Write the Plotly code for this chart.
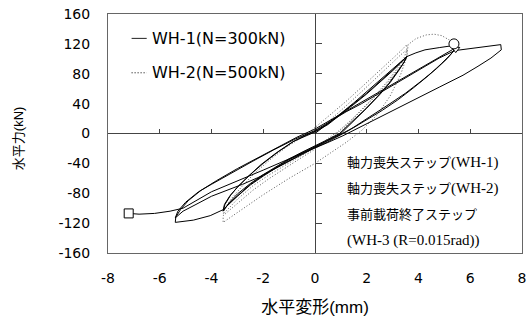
import plotly.graph_objects as go

# ---------------- data ----------------
wh1_x = [0, 0.5, 1, 1.5, 2, 2.5, 3, 3.3, 3.55,
         3.45, 3.25, 2.9, 2.5, 2.0, 1.5, 1.15, 1.0,
         0.5, 0, -0.5, -1, -1.5, -2, -2.5, -3, -3.3, -3.55,
         -3.5, -3.3, -3, -2.6, -2.1, -1.5, -0.9, -0.4, 0,
         0.5, 1, 1.5, 2, 2.5, 3, 3.3, 3.55,
         3.42, 3.2, 2.85, 2.4, 1.9, 1.4, 1.1, 0.95,
         0.5, 0, -0.5, -1, -1.5, -2, -2.5, -3, -3.3, -3.55,
         -3.48, -3.25, -2.95, -2.5, -2, -1.4, -0.8, -0.3, 0,
         0.5, 1, 1.5, 2, 2.5, 3, 3.3, 3.55, 3.9, 4.25, 4.8, 5.3, 5.4,
         5.4, 5.25, 4.9, 4.4, 3.8, 3.2, 2.6, 2.0, 1.5, 1.05,
         0.5, 0, -0.5, -1, -1.5, -2, -2.5, -3, -3.55, -4.05, -4.7, -5.4,
         -5.38, -5.2, -4.9, -4.4, -3.8, -3.0, -2.25, -1.5, -0.7, 0,
         0.5, 1, 1.6, 2.2, 2.8, 3.4, 3.9, 4.4, 4.9, 5.3, 5.4,
         5.35, 5.1, 4.7, 4.1, 3.5, 2.9, 2.3, 1.7, 1.3, 1.1,
         0.5, 0, -0.5, -1, -1.6, -2.2, -2.8, -3.4, -4, -4.6, -5.1, -5.4,
         -5.3, -5.0, -4.5, -4.0, -3.2, -2.4, -1.6, -0.8, 0,
         0.6, 1.2, 1.8, 2.4, 3, 3.6, 4.2, 4.8, 5.4, 6.0, 6.6, 7.18,
         7.2, 6.8, 6.3, 5.72, 4.8, 3.9, 3, 2.1, 1.5, 1.08,
         0.5, 0, -1, -2, -3, -4, -4.6, -5.1, -5.6, -6.2, -6.8, -7.2]
wh1_y = [0, 13, 27, 41, 56, 71, 87, 96, 103,
         96, 85, 68, 52, 34, 17, 6, 0,
         -9, -17, -26, -35, -45, -56, -68, -83, -93, -103,
         -95, -84, -72, -58, -42, -26, -12, -3, 3,
         13, 26, 40, 54, 69, 85, 95, 103,
         94, 83, 67, 49, 31, 15, 5, 0,
         -8, -16, -25, -34, -44, -55, -67, -81, -92, -104,
         -95, -82, -70, -55, -40, -24, -10, -2, 2,
         12, 25, 39, 53, 68, 84, 94, 103, 108, 112, 115, 118, 118,
         113, 106, 94, 78, 61, 45, 31, 18, 8, 0,
         -10, -18, -27, -36, -46, -57, -69, -84, -102, -110, -116, -119,
         -112, -102, -90, -76, -63, -47, -33, -19, -5, 6,
         16, 27, 38, 50, 62, 75, 84, 94, 104, 112, 116,
         110, 100, 87, 70, 54, 40, 26, 13, 4, 0,
         -11, -19, -28, -37, -48, -59, -68, -76, -84, -95, -104, -113,
         -104, -92, -78, -68, -52, -37, -22, -8, 4,
         17, 29, 40, 52, 64, 77, 89, 101, 111, 113.5, 116, 119,
         112, 101, 90, 78, 62, 46, 30, 15, 4, -3,
         -12, -19, -34, -49, -63, -78, -90, -100, -104, -107, -108, -107]

wh2_x = [0, 0.6, 1.2, 1.8, 2.4, 3, 3.3, 3.55,
         3.45, 3.2, 2.8, 2.3, 1.8, 1.3, 0.9, 0.5, 0, -0.6, -1.2, -1.8, -2.4, -3, -3.55,
         -3.45, -3.2, -2.8, -2.3, -1.7, -1.1, -0.5, 0, 0.6, 1.2, 1.8, 2.4, 3, 3.3, 3.55,
         3.55, 3.55, 3.3, 2.9, 2.4, 1.9, 1.4, 1.0, 0.5, 0, -0.6, -1.2, -1.8, -2.4, -3, -3.55, -3.55,
         -2.8, -2, -1, 0, 0.6, 1.2, 1.8, 2.4, 2.9, 3.3, 3.55, 3.6, 3.9, 4.3, 4.6, 4.9, 5.2, 5.37]
wh2_y = [0, 18, 37, 56, 75, 95, 105, 112,
         102, 88, 70, 50, 32, 15, 3, -7, -19, -31, -43, -56, -70, -88, -108,
         -98, -86, -70, -52, -34, -18, -5, 8, 25, 43, 62, 81, 100, 110, 119,
         111, 103, 90, 72, 52, 34, 17, 4, -9, -21, -34, -47, -61, -76, -94, -110, -119,
         -101, -82, -60, -40, -26, -12, 4, 25, 50, 78, 103, 119, 127, 132, 133, 131, 125, 120]

# step markers
collapse_wh1 = ([-7.2], [-107])     # 軸力喪失ステップ(WH-1)
collapse_wh2 = ([5.37], [120])      # 軸力喪失ステップ(WH-2)
preload_wh3 = ([5.44], [113])       # 事前載荷終了ステップ(WH-3)

x_ticks = [-8, -6, -4, -2, 0, 2, 4, 6, 8]
y_ticks = [-160, -120, -80, -40, 0, 40, 80, 120, 160]
x_minor = [-6, -4, -2, 2, 4, 6]
y_minor = [-160, -120, -80, -40, 40, 80, 120, 160]

x_title = "水平変形(mm)"
y_title = "水平力(kN)"
legend_labels = ["WH-1(N=300kN)", "WH-2(N=500kN)"]
note_jp = ["軸力喪失ステップ", "軸力喪失ステップ", "事前載荷終了ステップ", ""]
note_en = ["(WH-1)", "(WH-2)", "", "(WH-3 (R=0.015rad))"]

DOT = "1px,2px"

# ---------------- figure ----------------
fig = go.Figure()
fig.add_trace(go.Scatter(x=wh2_x, y=wh2_y, mode="lines",
                         line=dict(color="#555555", width=1, dash=DOT),
                         name=legend_labels[1], showlegend=False))
fig.add_trace(go.Scatter(x=wh1_x, y=wh1_y, mode="lines",
                         line=dict(color="#000000", width=1),
                         name=legend_labels[0], showlegend=False))
fig.add_trace(go.Scatter(x=preload_wh3[0], y=preload_wh3[1], mode="markers",
                         marker=dict(symbol="triangle-down", size=7, color="white",
                                     line=dict(color="black", width=1)),
                         showlegend=False))
fig.add_trace(go.Scatter(x=collapse_wh1[0], y=collapse_wh1[1], mode="markers",
                         marker=dict(symbol="square", size=9, color="white",
                                     line=dict(color="black", width=1)),
                         showlegend=False))
fig.add_trace(go.Scatter(x=collapse_wh2[0], y=collapse_wh2[1], mode="markers",
                         marker=dict(symbol="circle", size=10, color="white",
                                     line=dict(color="black", width=1)),
                         showlegend=False))

tick_font = dict(family="DejaVu Sans", size=14, color="black")

fig.update_layout(
    width=528, height=320,
    margin=dict(l=108, r=6, t=14, b=67, autoexpand=False),
    paper_bgcolor="white", plot_bgcolor="white",
    xaxis=dict(range=[-8, 8], tickvals=x_ticks, ticktext=[str(v) for v in x_ticks],
               showgrid=False, zeroline=True, zerolinecolor="#444444", zerolinewidth=1,
               showline=True, mirror=True, linecolor="#666666", linewidth=1,
               ticks="", ticklabelstandoff=12, tickfont=tick_font, automargin=False,
               ticklabeloverflow="allow",
               title=dict(text=x_title, standoff=16,
                          font=dict(family="Liberation Sans, Noto Sans CJK JP", size=17, color="black"))),
    yaxis=dict(range=[-160, 160], tickvals=y_ticks, ticktext=[str(v) for v in y_ticks],
               showgrid=False, zeroline=True, zerolinecolor="#444444", zerolinewidth=1,
               showline=True, mirror=True, linecolor="#666666", linewidth=1,
               ticks="", ticklabelstandoff=14, tickfont=tick_font, automargin=False,
               ticklabeloverflow="allow"),
    xaxis2=dict(range=[-8, 8], overlaying="x", anchor="free", position=0.5, side="bottom",
                tickvals=x_minor, ticks="inside", ticklen=5, tickcolor="#444444",
                showticklabels=False, showgrid=False, zeroline=False, showline=False),
    yaxis2=dict(range=[-160, 160], overlaying="y", anchor="free", position=0.5, side="left",
                tickvals=y_minor, ticks="inside", ticklen=6, tickcolor="#444444",
                showticklabels=False, showgrid=False, zeroline=False, showline=False),
    showlegend=False,
)

# dummy trace so the tick-only overlay axes are rendered
fig.add_trace(go.Scatter(x=[None], y=[None], xaxis="x2", yaxis="y2", showlegend=False,
                         hoverinfo="skip"))

# y-axis title (rotated text, placed like the reference)
fig.add_annotation(xref="paper", yref="paper", x=-0.217, y=0.481, xanchor="center", yanchor="middle",
                   text=y_title, textangle=-90, showarrow=False,
                   font=dict(family="Liberation Sans, Noto Sans CJK JP", size=13, color="black"))

# legend (short line samples + labels)
legend_font = dict(family="DejaVu Sans", size=16, color="black")
for i, (lbl, dash) in enumerate(zip(legend_labels, ["solid", DOT])):
    yp = [0.898, 0.754][i]
    fig.add_shape(type="line", xref="paper", yref="paper", x0=0.057, x1=0.0935, y0=yp, y1=yp,
                  line=dict(color="#222222" if dash == "solid" else "#000000", width=1, dash=dash))
    fig.add_annotation(xref="paper", yref="paper", x=0.101, y=yp, xanchor="left", yanchor="middle",
                       text=lbl, showarrow=False, font=legend_font)

note_font = dict(family="Liberation Serif, Noto Sans CJK JP", size=13, color="black")
for jp, en, yp in zip(note_jp, note_en, [0.377, 0.268, 0.159, 0.054]):
    txt = jp + (f'<span style="font-size:15px">{en}</span>' if en else "")
    fig.add_annotation(xref="paper", yref="paper", x=0.5725, y=yp, xanchor="left", yanchor="middle",
                       text=txt, showarrow=False, font=note_font)

# remove the browser's default 8px body margin so the figure sits at the window origin
fig.write_html("out.html",
               config={"displayModeBar": False},
               post_script="document.body.style.margin='0';document.body.style.overflow='hidden';")
